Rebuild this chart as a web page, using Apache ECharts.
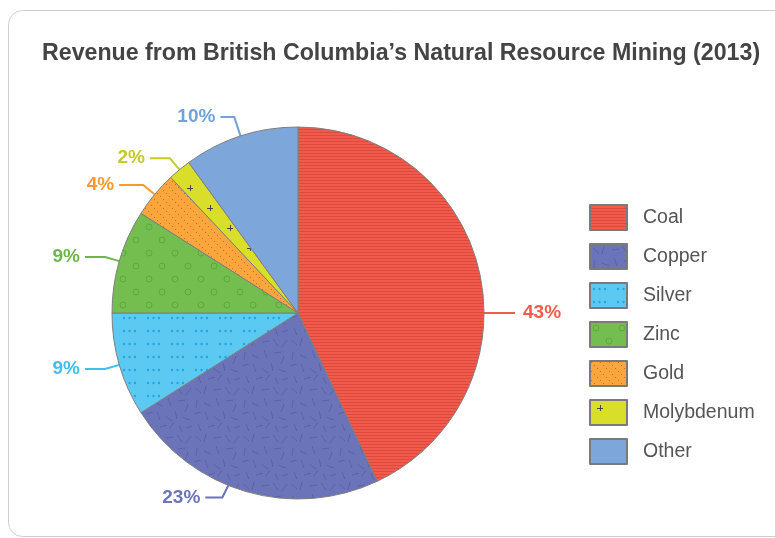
<!DOCTYPE html>
<html>
<head>
<meta charset="utf-8">
<script src="https://cdn.jsdelivr.net/npm/echarts@6/dist/echarts.min.js"></script>
<style>
html,body{margin:0;padding:0;background:#fff;}
#chart{width:775px;height:538px;}
</style>
</head>
<body>
<div id="chart"></div>
<script>
// ---- data ----
const categories = ['Coal', 'Copper', 'Silver', 'Zinc', 'Gold', 'Molybdenum', 'Other'];
const values = [43, 23, 9, 9, 4, 2, 10];
const titleText = 'Revenue from British Columbia\u2019s Natural Resource Mining (2013)';

// ---- styles ----
const baseColors = ['#F25A4B', '#6B73B9', '#5BC9F2', '#73BE4F', '#F9A73D', '#D8DE2A', '#7DA7DB'];
const labelColors = ['#F25A4B', '#6B73B9', '#3EC0EC', '#6BB84A', '#F59B2E', '#C5CA28', '#6FA3D9'];
const labelLen1 = [15, 15, 15, 15, 15, 15, 20];
const labelLen2 = [18, 18, 20, 20, 24, 20, 14];

function tile(w, h, base, draw) {
  const c = document.createElement('canvas');
  c.width = w; c.height = h;
  const g = c.getContext('2d');
  g.fillStyle = base; g.fillRect(0, 0, w, h);
  if (draw) draw(g);
  return { image: c, repeat: 'repeat' };
}
const copperDashes = [
  [3,4,9,9],[14,2,12,10],[22,6,29,5],[33,3,38,10],[42,11,47,4],
  [5,16,4,24],[12,19,19,22],[24,14,27,22],[34,17,41,16],[44,20,41,28],
  [2,30,9,28],[13,28,16,36],[21,32,28,37],[31,27,33,35],[38,33,46,36],
  [6,40,9,47],[16,43,23,41],[26,44,30,38],[35,41,38,48],[42,44,48,42]
];
const fills = [
  tile(4, 3, baseColors[0], g => { g.fillStyle = '#DC4A3E'; g.fillRect(0, 0, 4, 1); }),
  tile(48, 48, baseColors[1], g => {
    g.strokeStyle = 'rgba(88,94,168,0.85)'; g.lineWidth = 1;
    copperDashes.forEach(s => { g.beginPath(); g.moveTo(s[0], s[1]); g.lineTo(s[2], s[3]); g.stroke(); });
  }),
  tile(24, 13, baseColors[2], g => {
    g.fillStyle = '#28A4DE';
    [4, 9.5, 15].forEach(x => { g.beginPath(); g.arc(x, 6, 1.2, 0, Math.PI * 2); g.fill(); });
  }),
  tile(26, 26, baseColors[3], g => {
    g.strokeStyle = '#5BAA3C'; g.lineWidth = 1;
    [[6, 6], [19, 19]].forEach(p => { g.beginPath(); g.arc(p[0], p[1], 3, 0, Math.PI * 2); g.stroke(); });
  }),
  tile(9, 9, baseColors[4], g => {
    g.fillStyle = '#E8602E';
    [1, 4, 7].forEach(x => g.fillRect(x, x, 1, 1));
  }),
  tile(40, 40, baseColors[5], g => {
    g.strokeStyle = '#444'; g.lineWidth = 1;
    [[10, 8], [30, 28]].forEach(p => {
      g.beginPath(); g.moveTo(p[0] - 3, p[1] + 0.5); g.lineTo(p[0] + 3, p[1] + 0.5);
      g.moveTo(p[0] + 0.5, p[1] - 3); g.lineTo(p[0] + 0.5, p[1] + 3); g.stroke();
    });
  }),
  baseColors[6]
];

const CX = 298, CY = 313, R = 186;
const copperLabelAngle = 202; // degrees clockwise from top
const FONT = 'Liberation Sans, Arial, sans-serif';

const chart = echarts.init(document.getElementById('chart'), null, { renderer: 'canvas' });
chart.setOption({
  animation: false,
  backgroundColor: '#fff',
  graphic: [{
    type: 'rect', silent: true, z: -1,
    shape: { x: 8.5, y: 10.5, width: 820, height: 526, r: 14 },
    style: { fill: 'none', stroke: '#CFCFCF', lineWidth: 1 }
  }],
  title: {
    text: titleText, left: 37, top: 37,
    textStyle: { fontFamily: FONT, fontWeight: 'bold', fontSize: 23.2, color: '#444' }
  },
  legend: {
    orient: 'vertical', left: 589, top: 204, padding: 0,
    itemWidth: 37, itemHeight: 25, itemGap: 12,
    icon: 'rect',
    itemStyle: { borderColor: '#7A7A7A', borderWidth: 2 },
    textStyle: { fontFamily: FONT, fontSize: 19.5, color: '#555', padding: [0, 0, 0, 11] },
    data: categories
  },
  series: [{
    type: 'pie',
    center: [CX, CY],
    radius: R,
    startAngle: 90,
    clockwise: true,
    avoidLabelOverlap: false,
    itemStyle: { borderColor: '#7F7F7F', borderWidth: 1 },
    label: {
      show: true, formatter: '{c}%',
      fontFamily: FONT, fontWeight: 'bold', fontSize: 19,
      distanceToLabelLine: 5
    },
    labelLine: { show: true, length: 15, length2: 18, lineStyle: { width: 2 } },
    labelLayout: function (p) {
      if (p.dataIndex === 0) {
        return {
          x: CX + R + 39, y: CY, align: 'left', verticalAlign: 'middle',
          labelLinePoints: [[CX + R, CY], [CX + R + 16, CY], [CX + R + 31, CY]]
        };
      }
      if (p.dataIndex === 1) {
        const a = copperLabelAngle * Math.PI / 180;
        const ex = CX + R * Math.sin(a), ey = CY - R * Math.cos(a);
        const bx = ex - 6, by = ey + 12;
        return {
          x: bx - 22, y: by, align: 'right', verticalAlign: 'middle',
          labelLinePoints: [[ex, ey], [bx, by], [bx - 17, by]]
        };
      }
    },
    emphasis: { disabled: true },
    data: categories.map((n, i) => ({
      name: n, value: values[i],
      itemStyle: { color: fills[i] },
      label: { color: labelColors[i] },
      labelLine: { length: labelLen1[i], length2: labelLen2[i], lineStyle: { color: labelColors[i] } }
    }))
  }]
});
</script>
</body>
</html>
